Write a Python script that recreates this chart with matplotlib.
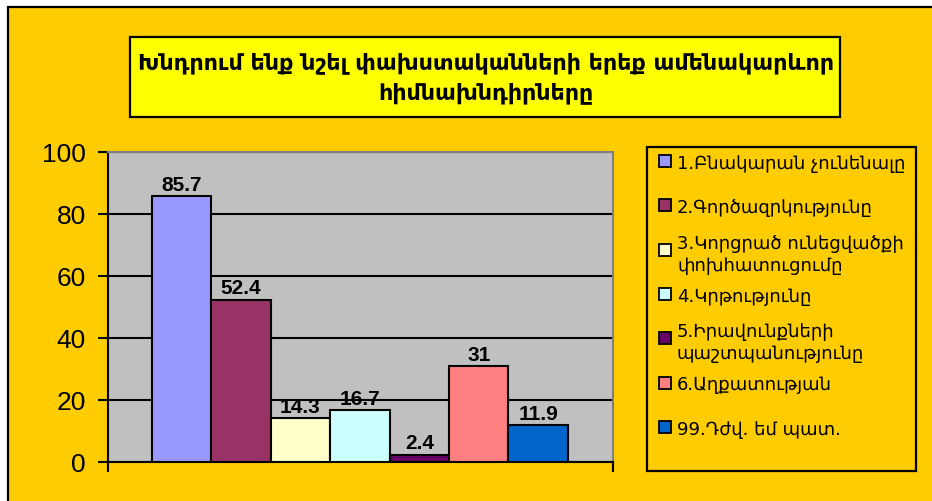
import matplotlib
matplotlib.use("Agg")
import matplotlib.pyplot as plt
from matplotlib.patches import Rectangle

# ---- data ----
categories = [
    "1.Բնակարան չունենալը",
    "2.Գործազրկությունը",
    "3.Կորցրած ունեցվածքի\nփոխհատուցումը",
    "4.Կրթությունը",
    "5.Իրավունքների\nպաշտպանությունը",
    "6.Աղքատության",
    "99.Դժվ. եմ պատ.",
]
values = [85.7, 52.4, 14.3, 16.7, 2.4, 31, 11.9]
value_labels = ["85.7", "52.4", "14.3", "16.7", "2.4", "31", "11.9"]
colors = ["#9999FF", "#993366", "#FFFFCC", "#CCFFFF", "#660066", "#FF8080", "#0066CC"]
yticks = [0, 20, 40, 60, 80, 100]
title = "Խնդրում ենք նշել փախստականների երեք ամենակարևոր\nհիմնախնդիրները"

W, H = 932, 502
fig = plt.figure(figsize=(W / 100, H / 100), dpi=100)
fig.patch.set_facecolor("white")


def fx(x):
    return x / W


def fy(y):
    return 1 - y / H


# chart area background
fig.patches.append(Rectangle((fx(8), -0.1), 1.2, fy(8) + 0.1, transform=fig.transFigure,
                             facecolor="#FFCC00", edgecolor="black", linewidth=1.6, zorder=-10))

# axes
ax = fig.add_axes([fx(108), fy(463), fx(613) - fx(108), fy(153) - fy(463)])
ax.set_zorder(2)
ax.set_facecolor("#C0C0C0")
x = list(range(len(values)))
ax.bar(x, values, width=1.0, color=colors, edgecolor="black", linewidth=1.5, zorder=3)
ax.set_xlim(-1.24, 7.26)
ax.set_ylim(0, 100)
ax.set_yticks(yticks)
ax.set_yticklabels([str(t) for t in yticks], fontsize=19, family="Liberation Sans")
ax.set_xticks([-1.24, 7.26])
ax.set_xticklabels(["", ""])
ax.tick_params(axis="both", direction="out", length=7, width=1.5, color="black", pad=9)
ax.grid(axis="y", color="black", linewidth=1.5, zorder=1)
ax.set_axisbelow(True)
for s in ["left", "bottom"]:
    ax.spines[s].set_color("black")
    ax.spines[s].set_linewidth(1.5)
for s in ["top", "right"]:
    ax.spines[s].set_color("#808080")
    ax.spines[s].set_linewidth(1.5)

for xi, v, lab in zip(x, values, value_labels):
    ax.annotate(lab, (xi, v), xytext=(0, 1.5), textcoords="offset points",
                ha="center", va="bottom", fontsize=15, fontweight="bold",
                family="Liberation Sans", zorder=4)

# title box
fig.patches.append(Rectangle((fx(130), fy(118)), fx(840) - fx(130), fy(38) - fy(118),
                             transform=fig.transFigure, facecolor="#FFFF00",
                             edgecolor="black", linewidth=1.6, zorder=1))
fig.text(fx(486), fy(78), title, ha="center", va="center", fontsize=16,
         fontweight="bold", family=["DejaVu Sans"], linespacing=1.45, zorder=2)

# legend box
fig.patches.append(Rectangle((fx(647), fy(472)), fx(916) - fx(647), fy(148) - fy(472),
                             transform=fig.transFigure, facecolor="none",
                             edgecolor="black", linewidth=1.6, zorder=1))
y0, step = 162, 44.3
for i, (lab, c) in enumerate(zip(categories, colors)):
    yc = y0 + i * step
    fig.patches.append(Rectangle((fx(659), fy(yc + 6)), fx(12), 12 / H,
                                 transform=fig.transFigure, facecolor=c,
                                 edgecolor="black", linewidth=1.3, zorder=2))
    fig.text(fx(677), fy(yc), lab, ha="left", va="center_baseline", fontsize=13,
             family=["DejaVu Sans"], linespacing=1.3, zorder=2)

fig.savefig("out.png", dpi=100, facecolor=fig.get_facecolor())
